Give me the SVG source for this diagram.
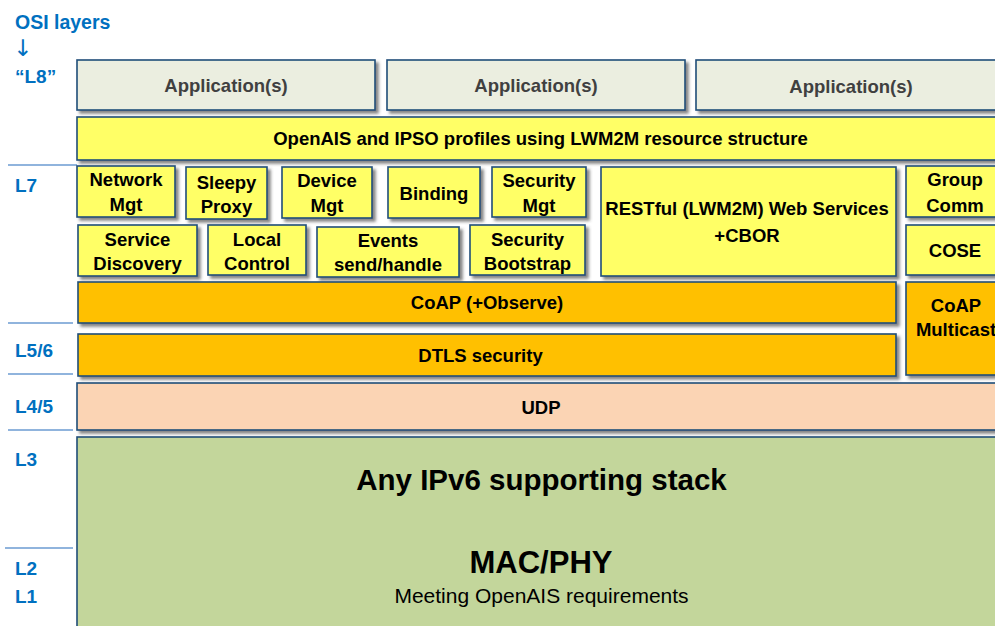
<svg xmlns="http://www.w3.org/2000/svg" width="995" height="626" viewBox="0 0 995 626">
<defs>
<filter id="sh" x="-5%" y="-10%" width="115%" height="130%">
<feDropShadow dx="3" dy="3" stdDeviation="1.6" flood-color="#444" flood-opacity="0.65"/>
</filter>
<style>
.box{stroke:#1F4E79;stroke-width:1.6;filter:url(#sh)}
.app{fill:#EBEEE0}
.yel{fill:#FFFF66}
.org{fill:#FFC000}
.udp{fill:#FBD4B4}
.grn{fill:#C3D69B}
text{font-family:"Liberation Sans",Arial,sans-serif;font-weight:bold;font-size:18.5px;fill:#000;text-anchor:middle}
.at{fill:#404040}
.osi{fill:#0070C0;text-anchor:start;font-size:19px}
.arr{font-family:"DejaVu Sans",sans-serif;font-weight:normal;font-size:23px}
.big{font-size:29.5px}
.mac{font-size:31px}
.reg{font-weight:normal;font-size:21px}
.sep{stroke:#6B9BD2;stroke-width:1.5}
</style>
</defs>
<rect width="995" height="626" fill="#fff"/>

<g id="osi-labels">
<text class="osi" x="15" y="29" style="font-size:19.5px">OSI layers</text>
<text class="osi arr" x="13" y="56">↓</text>
<text class="osi" x="15" y="83">“L8”</text>
<text class="osi" x="15" y="192">L7</text>
<text class="osi" x="15" y="357">L5/6</text>
<text class="osi" x="15" y="413">L4/5</text>
<text class="osi" x="15" y="466">L3</text>
<text class="osi" x="15" y="575">L2</text>
<text class="osi" x="15" y="603">L1</text>
</g>

<g id="connectors">
<line class="sep" x1="8" y1="165" x2="77" y2="165"/>
<line class="sep" x1="8" y1="323" x2="73" y2="323"/>
<line class="sep" x1="8" y1="374" x2="73" y2="374"/>
<line class="sep" x1="8" y1="430" x2="73" y2="430"/>
<line class="sep" x1="5" y1="548" x2="73" y2="548"/>
</g>

<g id="app1"><rect class="box app" x="77" y="60" width="298" height="50"/><text class="at" x="226" y="92">Application(s)</text></g>
<g id="app2"><rect class="box app" x="387" y="60" width="298" height="50"/><text class="at" x="536" y="92">Application(s)</text></g>
<g id="app3"><rect class="box app" x="696" y="60" width="310" height="50"/><text class="at" x="851" y="93">Application(s)</text></g>

<g id="profiles"><rect class="box yel" x="77" y="117" width="929" height="43"/><text x="540.5" y="145">OpenAIS and IPSO profiles using LWM2M resource structure</text></g>

<g id="network-mgt"><rect class="box yel" x="77" y="166" width="98" height="51"/><text x="126" y="186">Network</text><text x="126" y="211">Mgt</text></g>
<g id="sleepy-proxy"><rect class="box yel" x="186" y="167" width="81" height="52"/><text x="226.5" y="189">Sleepy</text><text x="226.5" y="213">Proxy</text></g>
<g id="device-mgt"><rect class="box yel" x="282" y="167" width="90" height="51"/><text x="327" y="187">Device</text><text x="327" y="212">Mgt</text></g>
<g id="binding"><rect class="box yel" x="388" y="167" width="92" height="51"/><text x="434" y="200">Binding</text></g>
<g id="security-mgt"><rect class="box yel" x="492" y="167" width="94" height="50"/><text x="539" y="187">Security</text><text x="539" y="212">Mgt</text></g>
<g id="restful"><rect class="box yel" x="601" y="167" width="295" height="109"/><text x="747" y="215">RESTful (LWM2M) Web Services</text><text x="747" y="242">+CBOR</text></g>
<g id="group-comm"><rect class="box yel" x="906" y="166" width="100" height="51"/><text x="955" y="186">Group</text><text x="955" y="212">Comm</text></g>

<g id="service-discovery"><rect class="box yel" x="78" y="225" width="119" height="51"/><text x="137.5" y="246">Service</text><text x="137.5" y="270">Discovery</text></g>
<g id="local-control"><rect class="box yel" x="208" y="225" width="98" height="50"/><text x="257" y="246">Local</text><text x="257" y="270">Control</text></g>
<g id="events"><rect class="box yel" x="317" y="227" width="142" height="50"/><text x="388" y="247">Events</text><text x="388" y="271">send/handle</text></g>
<g id="security-bootstrap"><rect class="box yel" x="470" y="225" width="115" height="50"/><text x="527.5" y="246">Security</text><text x="527.5" y="270">Bootstrap</text></g>
<g id="cose"><rect class="box yel" x="906" y="225" width="100" height="50"/><text x="955" y="257">COSE</text></g>

<g id="coap"><rect class="box org" x="78" y="282" width="818" height="41"/><text x="487" y="309">CoAP (+Observe)</text></g>
<g id="coap-multicast"><rect class="box org" x="906" y="282" width="100" height="93"/><text x="956" y="312">CoAP</text><text x="956" y="336">Multicast</text></g>
<g id="dtls"><rect class="box org" x="78" y="334" width="818" height="42"/><text x="480.5" y="362">DTLS security</text></g>

<g id="udp"><rect class="box udp" x="77" y="383" width="929" height="47"/><text x="541" y="414">UDP</text></g>

<g id="ipv6-stack"><rect class="box grn" x="77" y="437" width="929" height="200"/>
<text class="big" x="541.5" y="490">Any IPv6 supporting stack</text>
<text class="mac" x="541" y="573">MAC/PHY</text>
<text class="reg" x="541.5" y="603">Meeting OpenAIS requirements</text>
</g>
</svg>
